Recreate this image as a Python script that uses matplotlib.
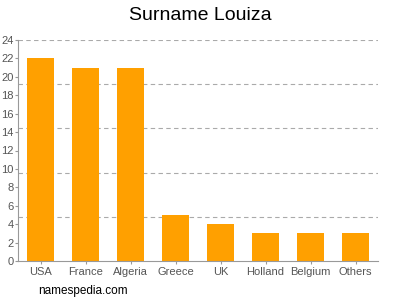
import matplotlib
matplotlib.use("Agg")
import matplotlib.pyplot as plt
import numpy as np

plt.rcParams['font.family'] = ['Liberation Sans', 'DejaVu Sans']

categories = ["USA", "France", "Algeria", "Greece", "UK", "Holland", "Belgium", "Others"]
values = [22, 21, 21, 5, 4, 3, 3, 3]
yticks = list(range(0, 25, 2))
grid_levels = [4.8, 9.6, 14.4, 19.2, 24]

fig = plt.figure(figsize=(4, 3), dpi=100)
ax = fig.add_axes([18/400, 1-261/300, (377.5-17.5)/400, (261-40)/300])
x = np.arange(len(categories))
ax.bar(x, values, width=0.62, color="#FFA000", zorder=2)
for g in grid_levels:
    ax.axhline(g, color="#aaaaaa", linestyle=(0, (4, 3)), linewidth=0.8, zorder=1)
ax.set_xlim(-0.5, len(categories) - 0.5)
ax.set_ylim(0, 24)
ax.set_yticks(yticks)
ax.set_xticks(x)
ax.set_xticklabels(categories)
for s in ["top", "right"]:
    ax.spines[s].set_visible(False)
for s in ["left", "bottom"]:
    ax.spines[s].set_color("#999999")
    ax.spines[s].set_linewidth(0.8)
ax.tick_params(axis="both", colors="#999999", labelcolor="#555555", labelsize=8, length=2, width=0.8)
ax.tick_params(axis="y", pad=1)
ax.tick_params(axis="x", pad=2)
fig.text(0.5, 1-15/300, "Surname Louiza", ha="center", va="center", fontsize=14, color="#000000")
fig.text(38/400, 1-291/300, "namespedia.com", ha="left", va="center", fontsize=8.5, color="#000000")
fig.savefig("out.png", dpi=100)
